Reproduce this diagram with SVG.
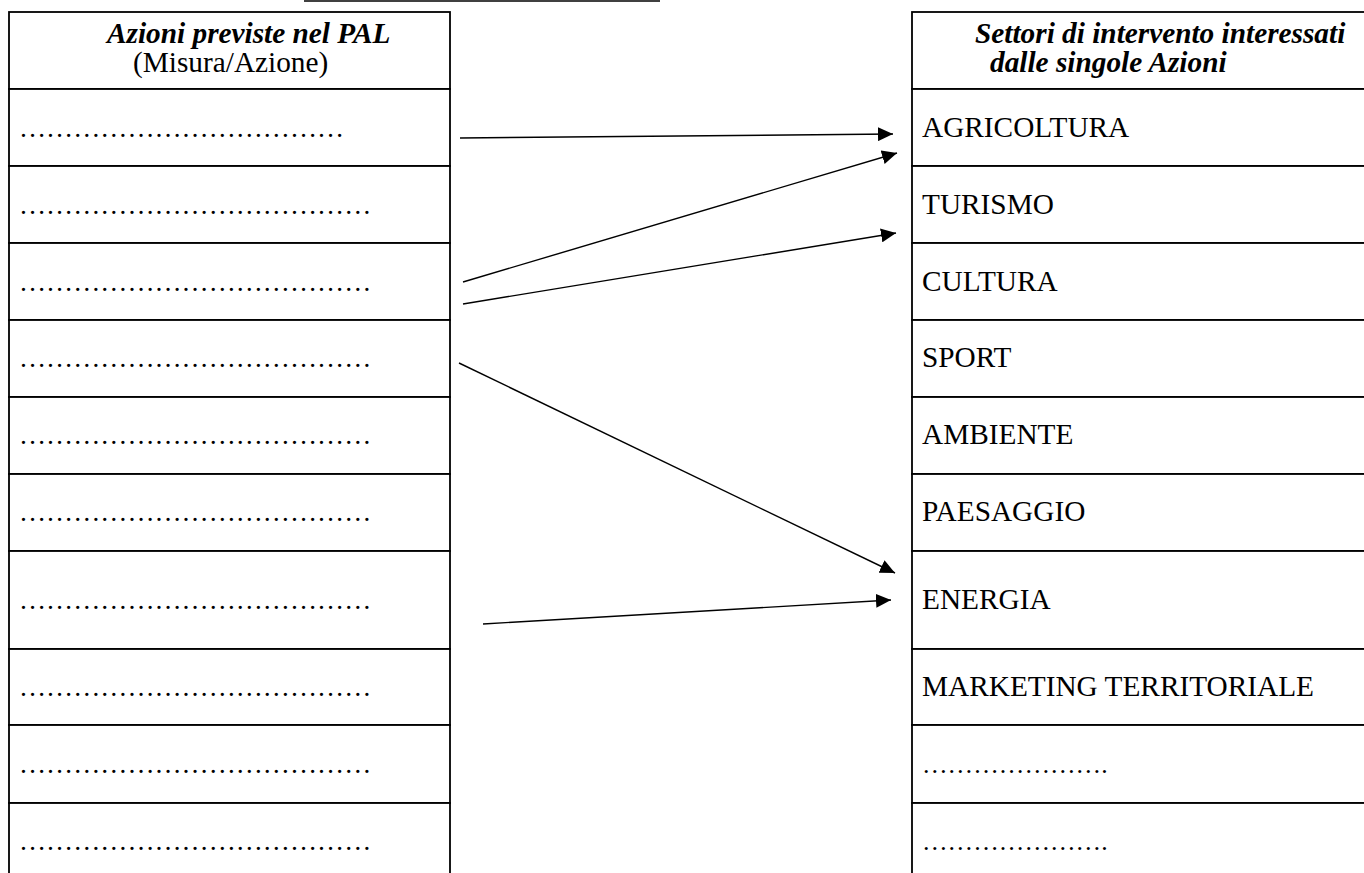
<svg xmlns="http://www.w3.org/2000/svg" width="1364" height="873" viewBox="0 0 1364 873">
<style>
.cell{fill:#fff;stroke:#000;stroke-width:1.8}
.t{font-family:"Liberation Serif","Times New Roman",serif;font-size:29.3px;fill:#000}
.d{font-size:27.1px}
.dr{font-size:25.6px}
.h{font-weight:bold;font-style:italic}
.conn{stroke:#000;stroke-width:1.4;fill:none;marker-end:url(#ah)}
</style>
<defs>
<marker id="ah" markerUnits="userSpaceOnUse" markerWidth="16" markerHeight="14" refX="15" refY="7" orient="auto">
<path d="M0,0 L15,7 L0,14 z" fill="#000"/>
</marker>
</defs>
<rect width="1364" height="873" fill="#fff"/>
<line x1="304" y1="1" x2="660" y2="1" stroke="#000" stroke-width="1.6"/>

<g id="left-header"><rect class="cell" x="9" y="12" width="441" height="77"/>
<text class="t h" x="107" y="43">Azioni previste nel PAL</text>
<text class="t" x="133" y="72">(Misura/Azione)</text></g>
<g id="left-1"><rect class="cell" x="9" y="89" width="441" height="77"/><text class="t d" x="19" y="137">………………………………</text></g>
<g id="left-2"><rect class="cell" x="9" y="166" width="441" height="77"/><text class="t d" x="19" y="214">…………………………………</text></g>
<g id="left-3"><rect class="cell" x="9" y="243" width="441" height="77"/><text class="t d" x="19" y="291">…………………………………</text></g>
<g id="left-4"><rect class="cell" x="9" y="320" width="441" height="77"/><text class="t d" x="19" y="367">…………………………………</text></g>
<g id="left-5"><rect class="cell" x="9" y="397" width="441" height="77"/><text class="t d" x="19" y="444">…………………………………</text></g>
<g id="left-6"><rect class="cell" x="9" y="474" width="441" height="77"/><text class="t d" x="19" y="521">…………………………………</text></g>
<g id="left-7"><rect class="cell" x="9" y="551" width="441" height="98"/><text class="t d" x="19" y="609">…………………………………</text></g>
<g id="left-8"><rect class="cell" x="9" y="649" width="441" height="76"/><text class="t d" x="19" y="696">…………………………………</text></g>
<g id="left-9"><rect class="cell" x="9" y="725" width="441" height="78"/><text class="t d" x="19" y="773">…………………………………</text></g>
<g id="left-10"><rect class="cell" x="9" y="803" width="441" height="90"/><text class="t d" x="19" y="850">…………………………………</text></g>

<g id="right-header"><rect class="cell" x="912" y="12" width="470" height="77"/>
<text class="t h" x="975" y="43">Settori di intervento interessati</text>
<text class="t h" x="990" y="72">dalle singole Azioni</text></g>
<g id="right-1"><rect class="cell" x="912" y="89" width="470" height="77"/><text class="t" x="922" y="137">AGRICOLTURA</text></g>
<g id="right-2"><rect class="cell" x="912" y="166" width="470" height="77"/><text class="t" x="922" y="214">TURISMO</text></g>
<g id="right-3"><rect class="cell" x="912" y="243" width="470" height="77"/><text class="t" x="922" y="291">CULTURA</text></g>
<g id="right-4"><rect class="cell" x="912" y="320" width="470" height="77"/><text class="t" x="922" y="367">SPORT</text></g>
<g id="right-5"><rect class="cell" x="912" y="397" width="470" height="77"/><text class="t" x="922" y="444">AMBIENTE</text></g>
<g id="right-6"><rect class="cell" x="912" y="474" width="470" height="77"/><text class="t" x="922" y="521">PAESAGGIO</text></g>
<g id="right-7"><rect class="cell" x="912" y="551" width="470" height="98"/><text class="t" x="922" y="609">ENERGIA</text></g>
<g id="right-8"><rect class="cell" x="912" y="649" width="470" height="76"/><text class="t" x="922" y="696">MARKETING TERRITORIALE</text></g>
<g id="right-9"><rect class="cell" x="912" y="725" width="470" height="78"/><text class="t dr" x="922" y="773">………………….</text></g>
<g id="right-10"><rect class="cell" x="912" y="803" width="470" height="90"/><text class="t dr" x="922" y="850">………………….</text></g>

<g id="connectors">
<line class="conn" x1="460" y1="138" x2="893" y2="134"/>
<line class="conn" x1="463" y1="282" x2="897" y2="153"/>
<line class="conn" x1="463" y1="304" x2="896" y2="233"/>
<line class="conn" x1="459" y1="363" x2="895" y2="573"/>
<line class="conn" x1="483" y1="624" x2="891" y2="600"/>
</g>
</svg>
